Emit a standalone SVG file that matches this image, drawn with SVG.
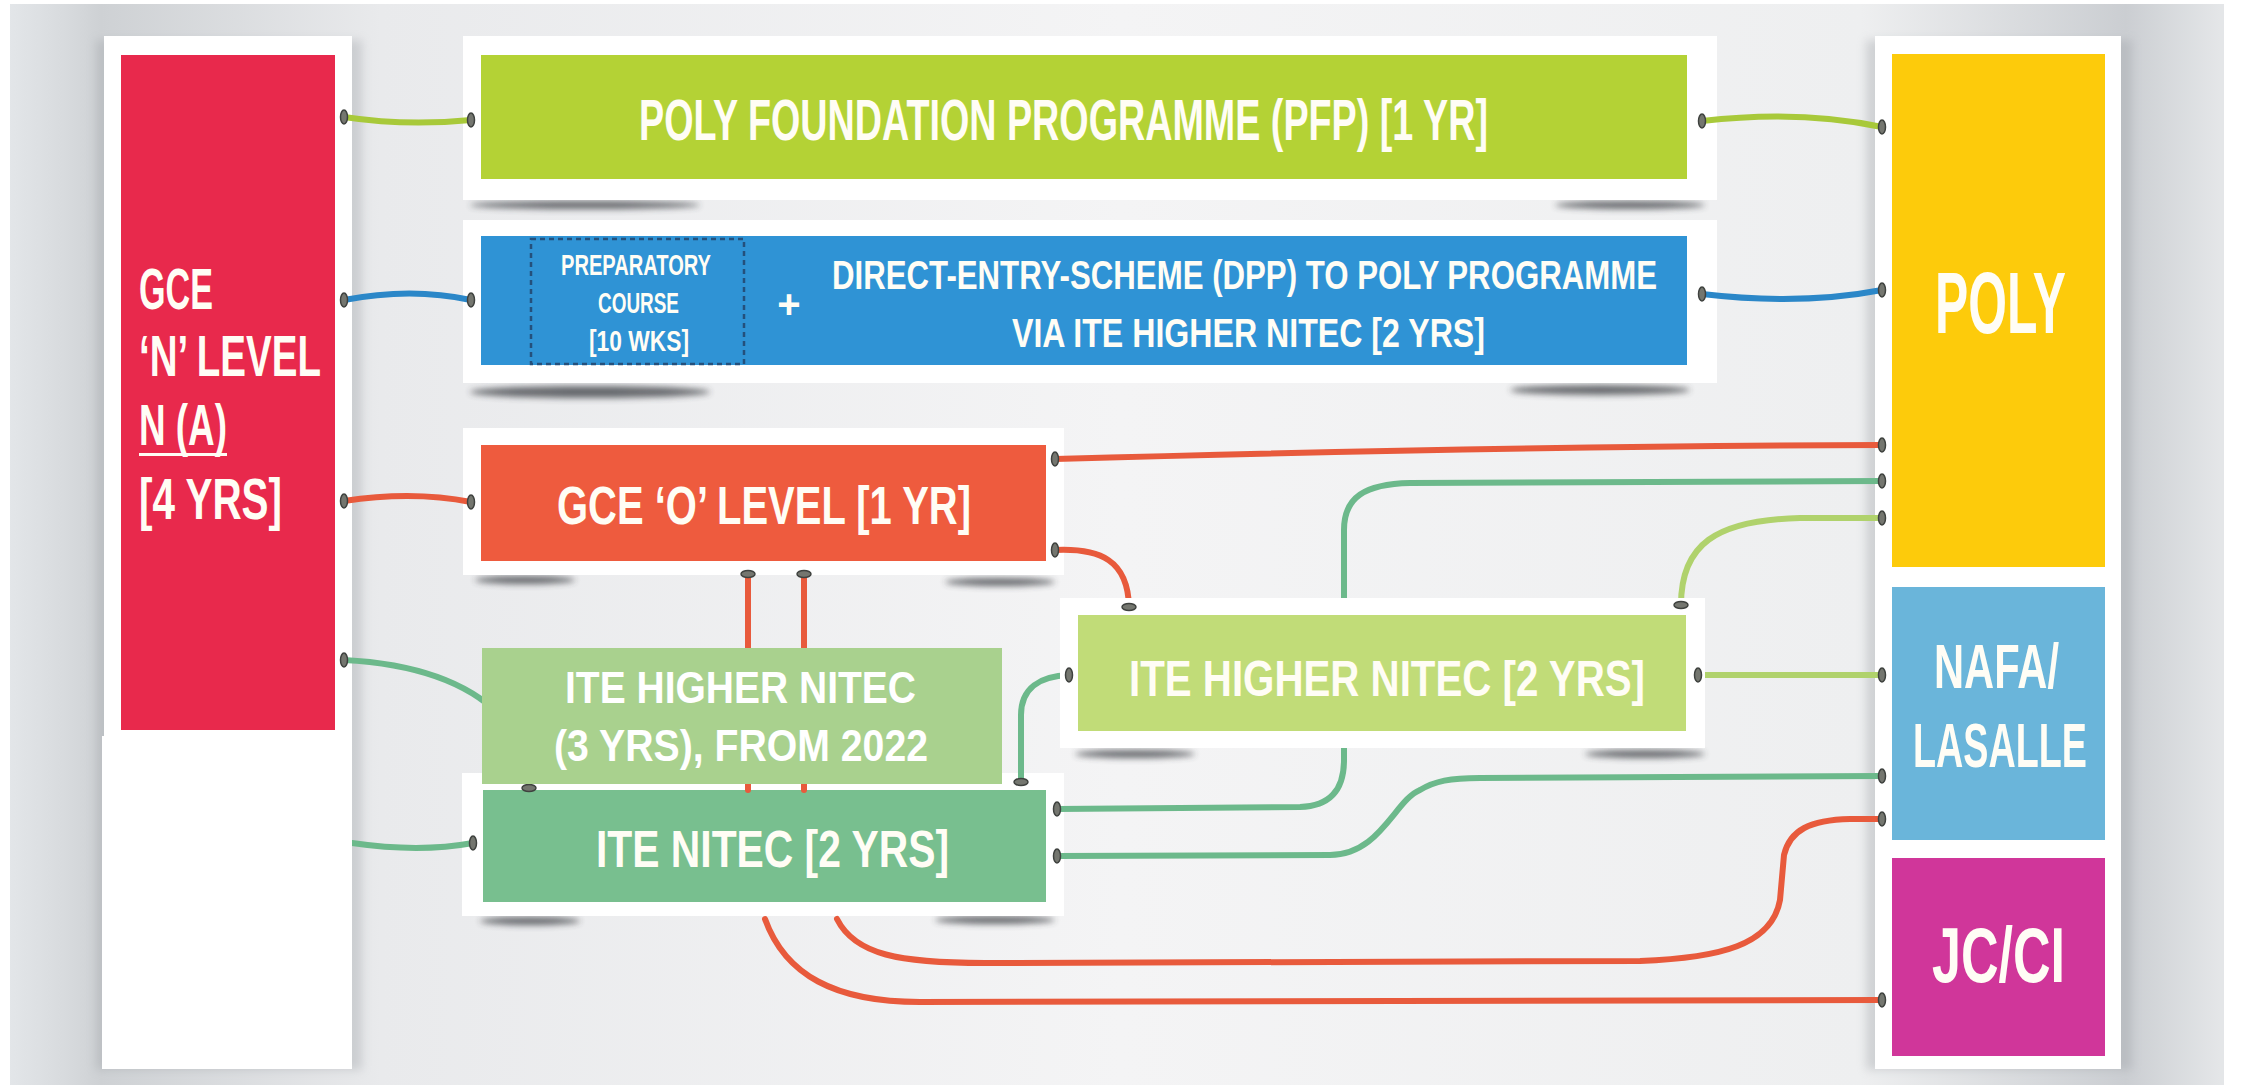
<svg xmlns="http://www.w3.org/2000/svg" width="2242" height="1085" viewBox="0 0 2242 1085">
<defs>
<linearGradient id="bg" gradientUnits="userSpaceOnUse" x1="0" y1="0" x2="2242" y2="0">
<stop offset="0.004" stop-color="#e3e6e9"/>
<stop offset="0.03" stop-color="#d7dadd"/>
<stop offset="0.045" stop-color="#ced1d4"/>
<stop offset="0.17" stop-color="#e9eaec"/>
<stop offset="0.5" stop-color="#f4f4f5"/>
<stop offset="0.83" stop-color="#eeeff0"/>
<stop offset="0.948" stop-color="#cbced2"/>
<stop offset="0.99" stop-color="#e4e6e8"/>
</linearGradient>
<filter id="blur" x="-20%" y="-200%" width="140%" height="500%"><feGaussianBlur stdDeviation="3"/></filter>
<filter id="blur2" x="-20%" y="-20%" width="140%" height="140%"><feGaussianBlur stdDeviation="5"/></filter>
<style>
.card{fill:#ffffff}
.sh{fill:#3a3d42;opacity:0.75;filter:url(#blur)}
.t{font-family:"Liberation Sans Narrow","Liberation Sans",Arial,sans-serif;font-weight:bold;fill:#fffdf5}
.ov{font-family:"Liberation Sans Narrow","Liberation Sans",Arial,sans-serif;font-weight:bold;fill:#ffffff}
.c{fill:none;stroke-width:6;stroke-linecap:round;stroke-linejoin:round}
.lime{stroke:#a8c93a}
.blue{stroke:#2b87c8}
.org{stroke:#e85a3c}
.grn{stroke:#6cb98b}
.lt{stroke:#b0d26c}
.term{fill:#74766f;stroke:#3f423f;stroke-width:1.5}
</style>
</defs>
<rect x="0" y="0" width="2242" height="1085" fill="#ffffff"/>
<rect x="10" y="4" width="2214" height="1081" fill="url(#bg)"/>

<g id="shadows">
<rect x="96" y="40" width="266" height="1030" fill="#9a9ea3" opacity="0.35" filter="url(#blur2)"/>
<rect x="1866" y="40" width="266" height="1030" fill="#9a9ea3" opacity="0.35" filter="url(#blur2)"/>
<ellipse class="sh" cx="585" cy="205" rx="115" ry="4"/>
<ellipse class="sh" cx="1630" cy="205" rx="75" ry="4"/>
<ellipse class="sh" cx="590" cy="392" rx="120" ry="6"/>
<ellipse class="sh" cx="1600" cy="390" rx="90" ry="5"/>
<ellipse class="sh" cx="525" cy="580" rx="50" ry="4"/>
<ellipse class="sh" cx="1000" cy="582" rx="55" ry="4"/>
<ellipse class="sh" cx="530" cy="921" rx="50" ry="4"/>
<ellipse class="sh" cx="995" cy="920" rx="60" ry="4"/>
<ellipse class="sh" cx="1135" cy="754" rx="60" ry="4"/>
<ellipse class="sh" cx="1645" cy="754" rx="60" ry="4"/>
</g>

<g id="node-gce-n-level">
<rect class="card" x="104" y="36" width="248" height="1033"/>
<rect x="121" y="55" width="214" height="675" fill="#e8294c"/>
<text class="t" x="139" y="309" font-size="57" textLength="74" lengthAdjust="spacingAndGlyphs">GCE</text>
<text class="t" x="139" y="376" font-size="57" textLength="182" lengthAdjust="spacingAndGlyphs">‘N’ LEVEL</text>
<text class="t" x="139" y="445" font-size="57" textLength="88" lengthAdjust="spacingAndGlyphs">N (A)</text>
<rect x="139" y="453" width="88" height="3" fill="#fffdf5"/>
<text class="t" x="139" y="519" font-size="57" textLength="143" lengthAdjust="spacingAndGlyphs">[4 YRS]</text>
</g>

<g id="node-pfp">
<rect class="card" x="463" y="36" width="1254" height="164"/>
<rect x="481" y="55" width="1206" height="124" fill="#b4d235"/>
<text class="t" x="639" y="140" font-size="57" textLength="849" lengthAdjust="spacingAndGlyphs" fill="#fbfce6">POLY FOUNDATION PROGRAMME (PFP) [1 YR]</text>
</g>

<g id="node-dpp">
<rect class="card" x="463" y="220" width="1254" height="163"/>
<rect x="481" y="236" width="1206" height="129" fill="#2f93d5"/>
<rect x="531" y="239" width="213" height="125" fill="none" stroke="#24507c" stroke-width="2.5" stroke-dasharray="5 4"/>
<text class="t" x="561" y="275" font-size="29" textLength="150" lengthAdjust="spacingAndGlyphs">PREPARATORY</text>
<text class="t" x="598" y="313" font-size="29" textLength="81" lengthAdjust="spacingAndGlyphs">COURSE</text>
<text class="t" x="589" y="351" font-size="29" textLength="100" lengthAdjust="spacingAndGlyphs">[10 WKS]</text>
<text class="t" x="789" y="318" font-size="40" text-anchor="middle">+</text>
<text class="t" x="832" y="289" font-size="41" textLength="825" lengthAdjust="spacingAndGlyphs">DIRECT-ENTRY-SCHEME (DPP) TO POLY PROGRAMME</text>
<text class="t" x="1012" y="347" font-size="41" textLength="473" lengthAdjust="spacingAndGlyphs">VIA ITE HIGHER NITEC [2 YRS]</text>
</g>

<g id="node-gce-o-level">
<rect class="card" x="463" y="428" width="601" height="147"/>
<rect x="481" y="445" width="565" height="116" fill="#ee5b3e"/>
<text class="t" x="557" y="524" font-size="53" textLength="414" lengthAdjust="spacingAndGlyphs">GCE ‘O’ LEVEL [1 YR]</text>
</g>

<g id="node-ite-nitec">
<rect class="card" x="462" y="773" width="602" height="143"/>
<rect x="483" y="790" width="563" height="112" fill="#78bf8f"/>
<text class="t" x="596" y="867" font-size="52" textLength="353" lengthAdjust="spacingAndGlyphs">ITE NITEC [2 YRS]</text>
</g>

<g id="node-poly">
<rect class="card" x="1875" y="36" width="246" height="1033"/>
<rect x="1892" y="54" width="213" height="513" fill="#fdcb0b"/>
<text class="t" x="1935" y="333" font-size="87" textLength="131" lengthAdjust="spacingAndGlyphs">POLY</text>
</g>

<g id="node-nafa">
<rect x="1892" y="587" width="213" height="253" fill="#6ab5da"/>
<text class="t" x="1934" y="688" font-size="63" textLength="125" lengthAdjust="spacingAndGlyphs">NAFA/</text>
<text class="t" x="1913" y="767" font-size="63" textLength="174" lengthAdjust="spacingAndGlyphs">LASALLE</text>
</g>

<g id="node-jc-ci">
<rect x="1892" y="858" width="213" height="198" fill="#d0369a"/>
<text class="t" x="1932" y="982" font-size="78" textLength="133" lengthAdjust="spacingAndGlyphs">JC/CI</text>
</g>

<g id="connectors">
<path class="c lime" d="M344,117 C390,124 430,124 471,120"/>
<path class="c lime" d="M1702,121 C1770,113 1830,116 1882,127"/>
<path class="c blue" d="M344,300 C390,291 430,291 471,300"/>
<path class="c blue" d="M1702,294 C1770,302 1830,300 1882,290"/>
<path class="c org" d="M344,501 C390,494 430,494 471,502"/>
<path class="c org" d="M1055,459 C1300,452 1600,446 1882,445"/>
<path class="c org" d="M1055,550 C1100,548 1128,560 1129,607"/>
<path class="c org" d="M748,574 L748,790"/>
<path class="c org" d="M804,574 L804,790"/>
<path class="c org" d="M837,919 C855,955 900,963 985,963 L1640,961 C1720,958 1772,945 1780,900 L1784,855 C1790,830 1810,820 1850,819 L1882,819"/>
<path class="c org" d="M765,919 C785,975 835,1002 920,1002 L1882,1000"/>
<path class="c grn" d="M344,660 C420,664 470,685 500,715 C520,740 529,765 529,788"/>
<path class="c grn" d="M352,843 C400,850 440,849 473,843"/>
<path class="c grn" d="M1057,809 L1300,807 C1330,806 1344,790 1344,760 L1344,530 C1344,497 1365,484 1410,483 L1882,481"/>
<path class="c grn" d="M1057,856 L1330,855 C1380,855 1395,800 1420,790 C1435,781 1450,778 1480,778 L1882,776"/>
<path class="c grn" d="M1021,782 L1021,715 C1021,688 1040,676 1069,675"/>
<path class="c lt" d="M1681,605 C1681,545 1715,520 1800,518 L1882,518"/>
<path class="c lt" d="M1698,675 L1882,675"/>
</g>

<g id="node-ite-higher-nitec">
<rect class="card" x="1060" y="598" width="645" height="150"/>
<rect x="1078" y="615" width="608" height="116" fill="#c1dc78"/>
<text class="t" x="1129" y="696" font-size="50" textLength="516" lengthAdjust="spacingAndGlyphs" fill="#f8fae6">ITE HIGHER NITEC [2 YRS]</text>
</g>

<g id="terminals">
<ellipse class="term" cx="344" cy="117" rx="3.5" ry="7"/>
<ellipse class="term" cx="471" cy="120" rx="3.5" ry="7"/>
<ellipse class="term" cx="344" cy="300" rx="3.5" ry="7"/>
<ellipse class="term" cx="471" cy="300" rx="3.5" ry="7"/>
<ellipse class="term" cx="344" cy="501" rx="3.5" ry="7"/>
<ellipse class="term" cx="471" cy="502" rx="3.5" ry="7"/>
<ellipse class="term" cx="344" cy="660" rx="3.5" ry="7"/>
<ellipse class="term" cx="473" cy="843" rx="3.5" ry="7"/>
<ellipse class="term" cx="1702" cy="121" rx="3.5" ry="7"/>
<ellipse class="term" cx="1882" cy="127" rx="3.5" ry="7"/>
<ellipse class="term" cx="1702" cy="294" rx="3.5" ry="7"/>
<ellipse class="term" cx="1882" cy="290" rx="3.5" ry="7"/>
<ellipse class="term" cx="1055" cy="459" rx="3.5" ry="7"/>
<ellipse class="term" cx="1882" cy="445" rx="3.5" ry="7"/>
<ellipse class="term" cx="1055" cy="550" rx="3.5" ry="7"/>
<ellipse class="term" cx="1057" cy="809" rx="3.5" ry="7"/>
<ellipse class="term" cx="1882" cy="481" rx="3.5" ry="7"/>
<ellipse class="term" cx="1057" cy="856" rx="3.5" ry="7"/>
<ellipse class="term" cx="1882" cy="776" rx="3.5" ry="7"/>
<ellipse class="term" cx="1882" cy="819" rx="3.5" ry="7"/>
<ellipse class="term" cx="1882" cy="1000" rx="3.5" ry="7"/>
<ellipse class="term" cx="1069" cy="675" rx="3.5" ry="7"/>
<ellipse class="term" cx="1882" cy="518" rx="3.5" ry="7"/>
<ellipse class="term" cx="1698" cy="675" rx="3.5" ry="7"/>
<ellipse class="term" cx="1882" cy="675" rx="3.5" ry="7"/>
<ellipse class="term" cx="1129" cy="607" rx="7" ry="3.5"/>
<ellipse class="term" cx="748" cy="574" rx="7" ry="3.5"/>
<ellipse class="term" cx="804" cy="574" rx="7" ry="3.5"/>
<ellipse class="term" cx="529" cy="788" rx="7" ry="3.5"/>
<ellipse class="term" cx="1021" cy="782" rx="7" ry="3.5"/>
<ellipse class="term" cx="1681" cy="605" rx="7" ry="3.5"/>
</g>

<g id="node-ite-higher-nitec-3yrs">
<rect x="482" y="648" width="520" height="136" fill="#a9d18e"/>
<text class="ov" x="565" y="703" font-size="45" textLength="351" lengthAdjust="spacingAndGlyphs">ITE HIGHER NITEC</text>
<text class="ov" x="554" y="761" font-size="45" textLength="374" lengthAdjust="spacingAndGlyphs">(3 YRS), FROM 2022</text>
</g>

<rect id="white-patch" x="102" y="736" width="250" height="333" fill="#ffffff"/>
</svg>
